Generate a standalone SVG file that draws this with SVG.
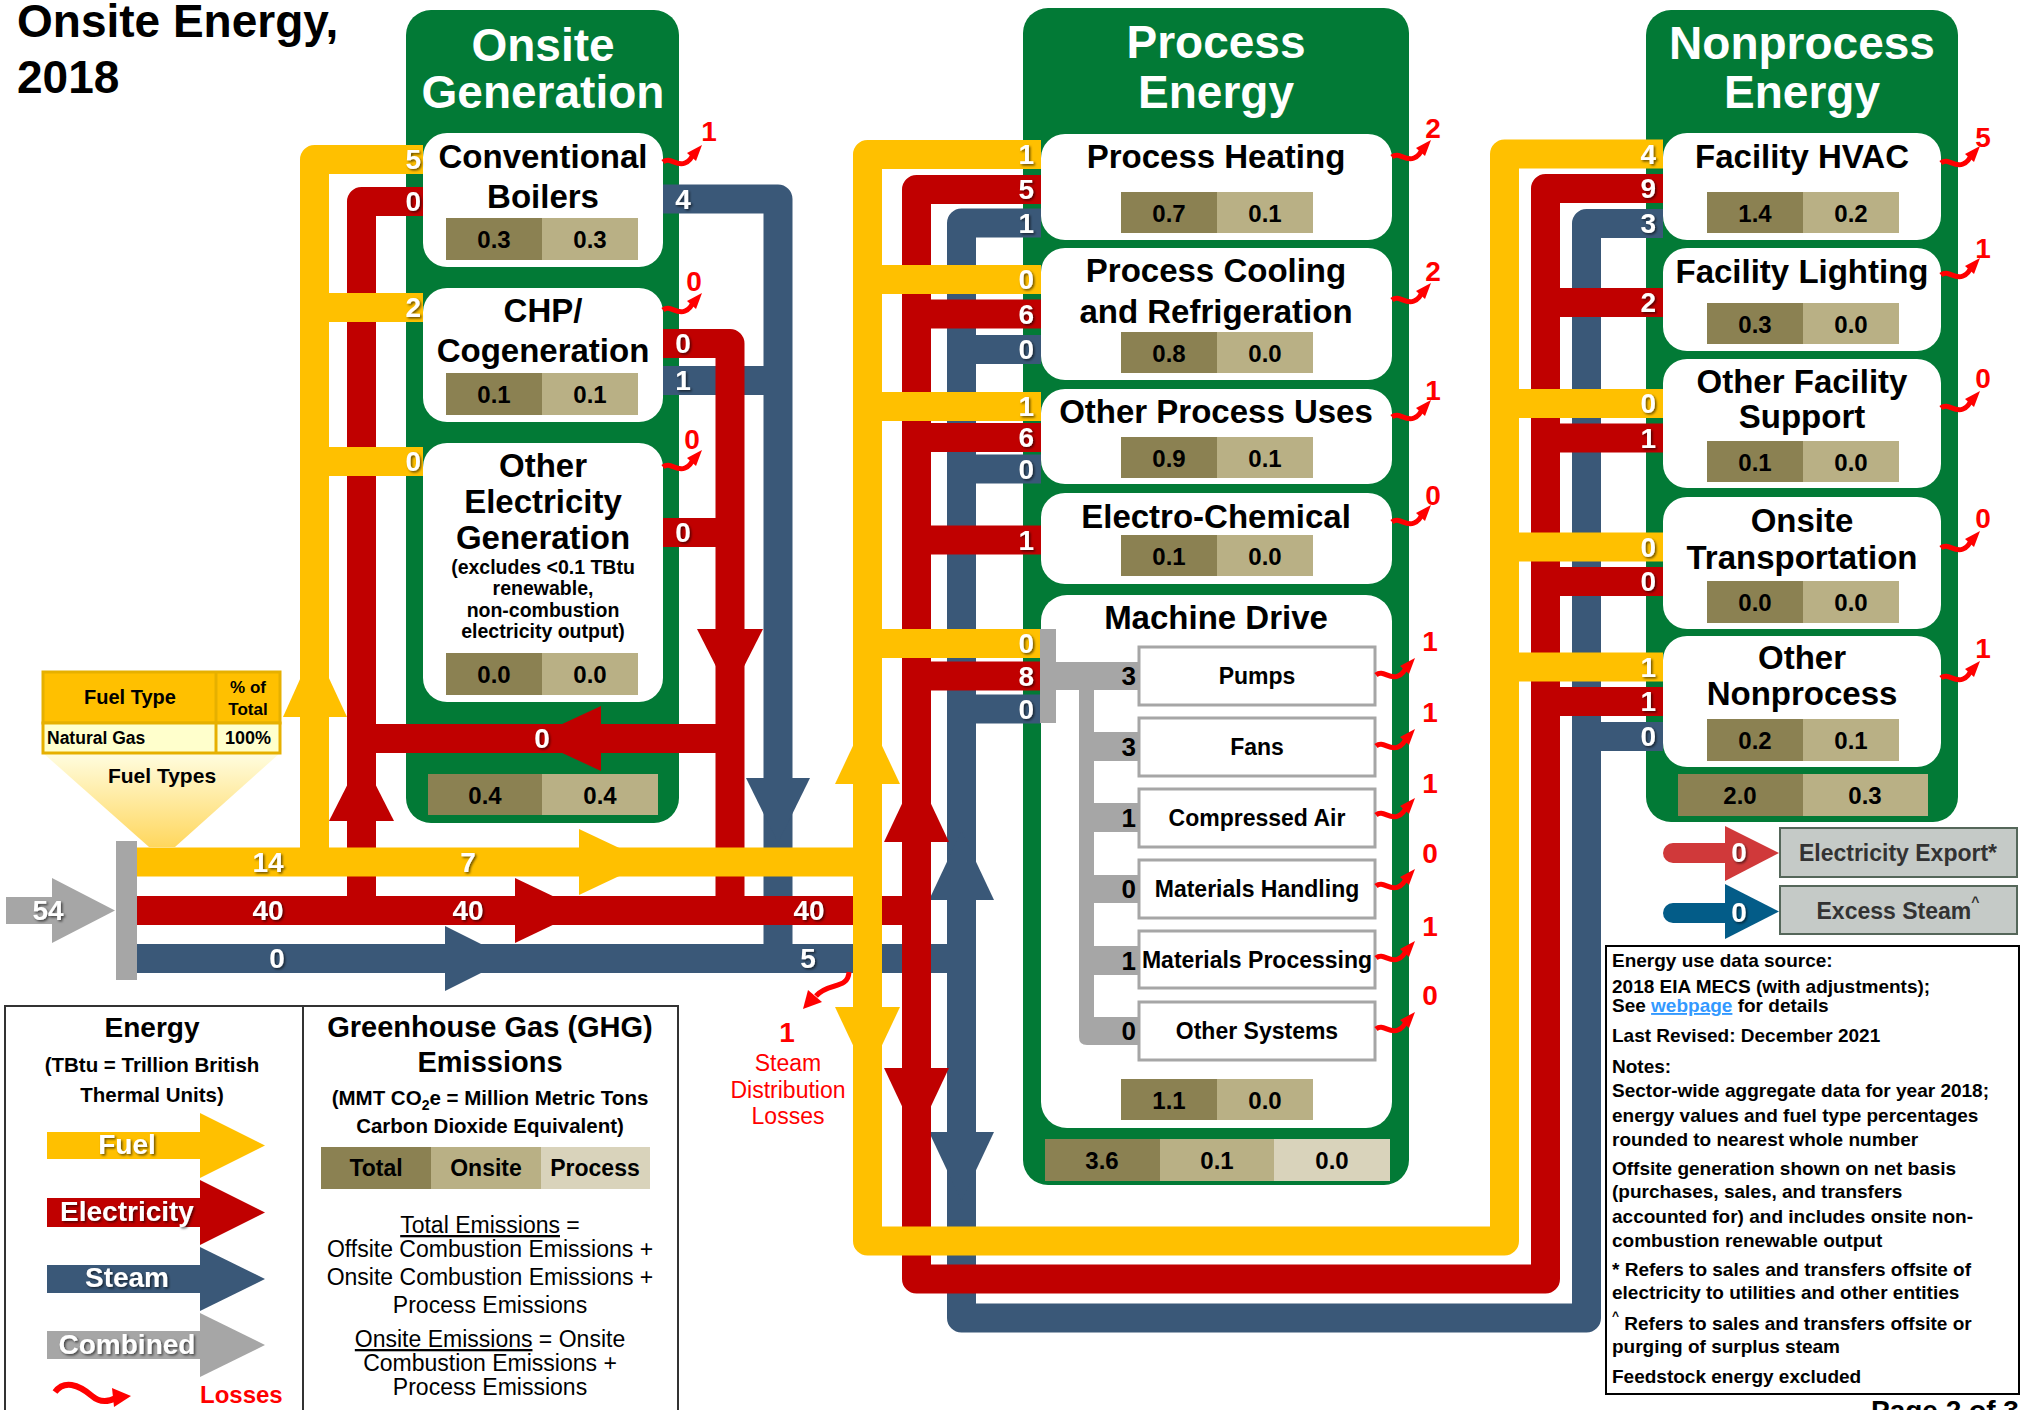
<svg xmlns="http://www.w3.org/2000/svg" width="2021" height="1410" viewBox="0 0 2021 1410">
<style>
text { font-family: "Liberation Sans", Arial, sans-serif; }
.b { font-weight: bold; }
.c { text-anchor: middle; }
.e { text-anchor: end; }
.pt { fill: #fff; font-size: 46px; font-weight: bold; text-anchor: middle; }
.bt { font-size: 33px; font-weight: bold; text-anchor: middle; fill: #000; }
.v { font-size: 24px; font-weight: bold; text-anchor: middle; fill: #000; }
.fl { fill: #fff; font-size: 28px; font-weight: bold; filter: url(#sh); }
.ls { fill: #f00; font-size: 28px; font-weight: bold; text-anchor: middle; }
.panel { fill: #027A36; }
.box { fill: #fff; }
.d { fill: #8B8152; } .l { fill: #B9B085; } .x { fill: #D9D3BB; }
.sub { fill: #fff; stroke: #A6A6A6; stroke-width: 3; }
.st { font-size: 23px; font-weight: bold; text-anchor: middle; }
.nt { font-size: 19px; font-weight: bold; }
.gy { fill: #A6A6A6; }
.ye { stroke: #FFC000; } .re { stroke: #C00000; } .bl { stroke: #3A5878; }
.yf { fill: #FFC000; } .rf { fill: #C00000; } .bf { fill: #3A5878; }
</style>
<defs>
<filter id="sh" x="-30%" y="-30%" width="160%" height="160%"><feDropShadow dx="1.5" dy="1.5" stdDeviation="1" flood-color="#000" flood-opacity="0.6"/></filter>
<linearGradient id="fun" x1="0" y1="0" x2="0" y2="1"><stop offset="0" stop-color="#FFFDE0"/><stop offset="1" stop-color="#FFD75E"/></linearGradient>
<g id="sq"><path d="M0,0 C7,-6 13,5 22,1 C27,-1 29,-5 30,-8" fill="none" stroke="#FF0000" stroke-width="5"/><polygon points="24,-9 39,-17 33,-1" fill="#FF0000"/></g>
</defs>
<rect width="2021" height="1410" fill="#fff"/>

<!-- Title -->
<g id="title">
<text x="17" y="37" class="b" font-size="46">Onsite Energy,</text>
<text x="17" y="93" class="b" font-size="46">2018</text>
</g>

<!-- Panels -->
<g id="onsite-generation">
<rect class="panel" x="406" y="10" width="273" height="813" rx="25"/>
<text class="pt" x="543" y="61">Onsite</text>
<text class="pt" x="543" y="108">Generation</text>
<rect class="d" x="428" y="774" width="114" height="41"/><rect class="l" x="542" y="774" width="116" height="41"/>
<text class="v" x="485" y="804">0.4</text><text class="v" x="600" y="804">0.4</text>
</g>
<g id="process-energy">
<rect class="panel" x="1023" y="8" width="386" height="1177" rx="25"/>
<text class="pt" x="1216" y="58">Process</text>
<text class="pt" x="1216" y="108">Energy</text>
<rect class="d" x="1045" y="1139" width="115" height="42"/><rect class="l" x="1160" y="1139" width="114" height="42"/><rect class="x" x="1274" y="1139" width="116" height="42"/>
<text class="v" x="1102" y="1169">3.6</text><text class="v" x="1217" y="1169">0.1</text><text class="v" x="1332" y="1169">0.0</text>
</g>
<g id="nonprocess-energy">
<rect class="panel" x="1646" y="10" width="312" height="812" rx="25"/>
<text class="pt" x="1802" y="59">Nonprocess</text>
<text class="pt" x="1802" y="108">Energy</text>
<rect class="d" x="1678" y="774" width="125" height="42"/><rect class="l" x="1803" y="774" width="125" height="42"/>
<text class="v" x="1740" y="804">2.0</text><text class="v" x="1865" y="804">0.3</text>
</g>

<!-- Onsite boxes -->
<g id="conventional-boilers">
<rect class="box" x="423" y="133" width="240" height="134" rx="24"/>
<text class="bt" x="543" y="168">Conventional</text>
<text class="bt" x="543" y="208">Boilers</text>
<rect class="d" x="446" y="218" width="96" height="42"/><rect class="l" x="542" y="218" width="96" height="42"/>
<text class="v" x="494" y="248">0.3</text><text class="v" x="590" y="248">0.3</text>
</g>
<g id="chp-cogeneration">
<rect class="box" x="423" y="288" width="240" height="134" rx="24"/>
<text class="bt" x="543" y="322">CHP/</text>
<text class="bt" x="543" y="362">Cogeneration</text>
<rect class="d" x="446" y="373" width="96" height="42"/><rect class="l" x="542" y="373" width="96" height="42"/>
<text class="v" x="494" y="403">0.1</text><text class="v" x="590" y="403">0.1</text>
</g>
<g id="other-electricity-generation">
<rect class="box" x="423" y="443" width="240" height="259" rx="24"/>
<text class="bt" x="543" y="477">Other</text>
<text class="bt" x="543" y="513">Electricity</text>
<text class="bt" x="543" y="549">Generation</text>
<text class="b c" font-size="19.5" x="543" y="574">(excludes &lt;0.1 TBtu</text>
<text class="b c" font-size="19.5" x="543" y="595">renewable,</text>
<text class="b c" font-size="19.5" x="543" y="617">non-combustion</text>
<text class="b c" font-size="19.5" x="543" y="638">electricity output)</text>
<rect class="d" x="446" y="653" width="96" height="42"/><rect class="l" x="542" y="653" width="96" height="42"/>
<text class="v" x="494" y="683">0.0</text><text class="v" x="590" y="683">0.0</text>
</g>

<!-- Process boxes -->
<g id="process-heating">
<rect class="box" x="1041" y="134" width="351" height="106" rx="24"/>
<text class="bt" x="1216" y="168">Process Heating</text>
<rect class="d" x="1121" y="192" width="96" height="41"/><rect class="l" x="1217" y="192" width="96" height="41"/>
<text class="v" x="1169" y="222">0.7</text><text class="v" x="1265" y="222">0.1</text>
</g>
<g id="process-cooling">
<rect class="box" x="1041" y="248" width="351" height="132" rx="24"/>
<text class="bt" x="1216" y="282">Process Cooling</text>
<text class="bt" x="1216" y="323">and Refrigeration</text>
<rect class="d" x="1121" y="332" width="96" height="41"/><rect class="l" x="1217" y="332" width="96" height="41"/>
<text class="v" x="1169" y="362">0.8</text><text class="v" x="1265" y="362">0.0</text>
</g>
<g id="other-process-uses">
<rect class="box" x="1041" y="389" width="351" height="95" rx="24"/>
<text class="bt" x="1216" y="423">Other Process Uses</text>
<rect class="d" x="1121" y="437" width="96" height="41"/><rect class="l" x="1217" y="437" width="96" height="41"/>
<text class="v" x="1169" y="467">0.9</text><text class="v" x="1265" y="467">0.1</text>
</g>
<g id="electro-chemical">
<rect class="box" x="1041" y="493" width="351" height="91" rx="24"/>
<text class="bt" x="1216" y="528">Electro-Chemical</text>
<rect class="d" x="1121" y="535" width="96" height="41"/><rect class="l" x="1217" y="535" width="96" height="41"/>
<text class="v" x="1169" y="565">0.1</text><text class="v" x="1265" y="565">0.0</text>
</g>
<g id="machine-drive">
<rect class="box" x="1041" y="595" width="351" height="533" rx="26"/>
<text class="bt" x="1216" y="629">Machine Drive</text>
<rect class="d" x="1121" y="1079" width="96" height="41"/><rect class="l" x="1217" y="1079" width="96" height="41"/>
<text class="v" x="1169" y="1109">1.1</text><text class="v" x="1265" y="1109">0.0</text>
</g>
<g id="pumps"><rect class="sub" x="1139" y="647" width="236" height="58"/><text class="st" x="1257" y="684">Pumps</text></g>
<g id="fans"><rect class="sub" x="1139" y="718" width="236" height="58"/><text class="st" x="1257" y="755">Fans</text></g>
<g id="compressed-air"><rect class="sub" x="1139" y="789" width="236" height="58"/><text class="st" x="1257" y="826">Compressed Air</text></g>
<g id="materials-handling"><rect class="sub" x="1139" y="860" width="236" height="58"/><text class="st" x="1257" y="897">Materials Handling</text></g>
<g id="materials-processing"><rect class="sub" x="1139" y="931" width="236" height="57"/><text class="st" x="1257" y="968">Materials Processing</text></g>
<g id="other-systems"><rect class="sub" x="1139" y="1002" width="236" height="58"/><text class="st" x="1257" y="1039">Other Systems</text></g>

<!-- Nonprocess boxes -->
<g id="facility-hvac">
<rect class="box" x="1663" y="133" width="278" height="107" rx="24"/>
<text class="bt" x="1802" y="168">Facility HVAC</text>
<rect class="d" x="1707" y="192" width="96" height="41"/><rect class="l" x="1803" y="192" width="96" height="41"/>
<text class="v" x="1755" y="222">1.4</text><text class="v" x="1851" y="222">0.2</text>
</g>
<g id="facility-lighting">
<rect class="box" x="1663" y="248" width="278" height="103" rx="24"/>
<text class="bt" x="1802" y="283">Facility Lighting</text>
<rect class="d" x="1707" y="303" width="96" height="41"/><rect class="l" x="1803" y="303" width="96" height="41"/>
<text class="v" x="1755" y="333">0.3</text><text class="v" x="1851" y="333">0.0</text>
</g>
<g id="other-facility-support">
<rect class="box" x="1663" y="359" width="278" height="129" rx="24"/>
<text class="bt" x="1802" y="393">Other Facility</text>
<text class="bt" x="1802" y="428">Support</text>
<rect class="d" x="1707" y="441" width="96" height="41"/><rect class="l" x="1803" y="441" width="96" height="41"/>
<text class="v" x="1755" y="471">0.1</text><text class="v" x="1851" y="471">0.0</text>
</g>
<g id="onsite-transportation">
<rect class="box" x="1663" y="497" width="278" height="132" rx="24"/>
<text class="bt" x="1802" y="532">Onsite</text>
<text class="bt" x="1802" y="569">Transportation</text>
<rect class="d" x="1707" y="581" width="96" height="42"/><rect class="l" x="1803" y="581" width="96" height="42"/>
<text class="v" x="1755" y="611">0.0</text><text class="v" x="1851" y="611">0.0</text>
</g>
<g id="other-nonprocess">
<rect class="box" x="1663" y="636" width="278" height="131" rx="24"/>
<text class="bt" x="1802" y="669">Other</text>
<text class="bt" x="1802" y="705">Nonprocess</text>
<rect class="d" x="1707" y="719" width="96" height="42"/><rect class="l" x="1803" y="719" width="96" height="42"/>
<text class="v" x="1755" y="749">0.2</text><text class="v" x="1851" y="749">0.1</text>
</g>

<!-- Fuel type table -->
<g id="fuel-types">
<polygon points="43,753 280,753 175,847 149,847" fill="url(#fun)"/>
<rect x="43" y="672" width="237" height="51" fill="#FFC000" stroke="#E6B000" stroke-width="3"/>
<rect x="43" y="723" width="237" height="30" fill="#FFFFCC" stroke="#E6B000" stroke-width="3"/>
<line x1="216" y1="672" x2="216" y2="753" stroke="#E6B000" stroke-width="3"/>
<text class="b c" font-size="20" x="130" y="704">Fuel Type</text>
<text class="b c" font-size="17" x="248" y="693">% of</text>
<text class="b c" font-size="17" x="248" y="715">Total</text>
<text class="b" font-size="17.5" x="47" y="744">Natural Gas</text>
<text class="b c" font-size="18" x="248" y="744">100%</text>
<text class="b c" font-size="21" x="162" y="783">Fuel Types</text>
</g>

<!-- Connectors -->
<g id="connectors">
<g id="combined-input">
<rect class="gy" x="6" y="897" width="47" height="27"/>
<polygon class="gy" points="52,878 115,910.5 52,943"/>
<rect class="gy" x="116" y="841" width="21" height="139"/>
</g>
<g id="steam-flows" fill="none" stroke-width="29" stroke-linejoin="round" class="bl">
<path d="M137,958.5 H961.5"/>
<path d="M663,199 H778 V958.5"/>
<path d="M663,380.5 H778"/>
<path d="M1041,223 H961.5 V1318 H1586.5 V223.5 H1663"/>
<path d="M1041,349.5 H961.5 M1041,469 H961.5 M1041,709 H961.5"/>
<path d="M1663,736.5 H1586.5"/>
</g>
<g id="steam-heads" class="bf">
<polygon points="445,926 510,958.5 445,991"/>
<polygon points="746,778 810,778 778,843"/>
<polygon points="929,900 994,900 961.5,831"/>
<polygon points="929,1132 994,1132 961.5,1201"/>
</g>
<g id="elec-flows" fill="none" stroke-width="29" stroke-linejoin="round" class="re">
<path d="M137,910.5 H916.5"/>
<path d="M423,201.5 H361.5 V910.5"/>
<path d="M361.5,738.5 H730"/>
<path d="M663,343.5 H730 V910.5"/>
<path d="M663,532.5 H730"/>
<path d="M1041,189.5 H916.5 V1279 H1545.5 V188.5 H1663"/>
<path d="M1041,314 H916.5 M1041,437.5 H916.5 M1041,540 H916.5 M1041,676 H916.5"/>
<path d="M1663,302.5 H1545.5 M1663,438 H1545.5 M1663,581.5 H1545.5 M1663,701.5 H1545.5"/>
</g>
<g id="elec-heads" class="rf">
<polygon points="515,878 583,910.5 515,943"/>
<polygon points="329,821 394,821 361.5,757"/>
<polygon points="697,629 763,629 730,694"/>
<polygon points="601,706 601,771 531,738.5"/>
<polygon points="884,842 949,842 916.5,773"/>
<polygon points="884,1068 949,1068 916.5,1137"/>
</g>
<g id="fuel-flows" fill="none" stroke-width="29" stroke-linejoin="round" class="ye">
<path d="M137,862 H867.5"/>
<path d="M423,159.5 H314.5 V862"/>
<path d="M423,307.5 H314.5 M423,461.5 H314.5"/>
<path d="M1041,154.5 H867.5 V1241 H1504.5 V154 H1663"/>
<path d="M1041,279.5 H867.5 M1041,406.5 H867.5 M1041,643.5 H867.5"/>
<path d="M1663,403.5 H1504.5 M1663,547 H1504.5 M1663,667 H1504.5"/>
</g>
<g id="fuel-heads" class="yf">
<polygon points="579,829 649,862 579,895"/>
<polygon points="283,717 347,717 314.5,647"/>
<polygon points="835,784 900,784 867.5,715"/>
<polygon points="835,1007 900,1007 867.5,1076"/>
</g>
<g id="machine-drive-split" class="gy">
<rect x="1040" y="629" width="16" height="94"/>
<rect x="1056" y="662" width="83" height="28"/>
<path d="M1079,690 H1094 V1017 H1139 V1045 H1087 Q1079,1045 1079,1037 Z"/>
<rect x="1094" y="732" width="45" height="29"/>
<rect x="1094" y="803" width="45" height="29"/>
<rect x="1094" y="875" width="45" height="28"/>
<rect x="1094" y="946" width="45" height="29"/>
</g>
<g id="flow-labels">
<text class="fl c" x="48" y="920">54</text>
<text class="fl c" x="268" y="872">14</text>
<text class="fl c" x="468" y="872">7</text>
<text class="fl c" x="268" y="920">40</text>
<text class="fl c" x="468" y="920">40</text>
<text class="fl c" x="809" y="920">40</text>
<text class="fl c" x="277" y="968">0</text>
<text class="fl c" x="808" y="968">5</text>
<text class="fl c" x="542" y="748">0</text>
<text class="fl e" x="421" y="169">5</text>
<text class="fl e" x="421" y="211">0</text>
<text class="fl e" x="421" y="317">2</text>
<text class="fl e" x="421" y="471">0</text>
<text class="fl c" x="683" y="209">4</text>
<text class="fl c" x="683" y="353">0</text>
<text class="fl c" x="683" y="390">1</text>
<text class="fl c" x="683" y="542">0</text>
<text class="fl e" x="1034" y="164">1</text>
<text class="fl e" x="1034" y="199">5</text>
<text class="fl e" x="1034" y="233">1</text>
<text class="fl e" x="1034" y="289">0</text>
<text class="fl e" x="1034" y="324">6</text>
<text class="fl e" x="1034" y="359">0</text>
<text class="fl e" x="1034" y="416">1</text>
<text class="fl e" x="1034" y="447">6</text>
<text class="fl e" x="1034" y="479">0</text>
<text class="fl e" x="1034" y="550">1</text>
<text class="fl e" x="1034" y="653">0</text>
<text class="fl e" x="1034" y="686">8</text>
<text class="fl e" x="1034" y="719">0</text>
<text class="fl e" x="1656" y="164">4</text>
<text class="fl e" x="1656" y="198">9</text>
<text class="fl e" x="1656" y="233">3</text>
<text class="fl e" x="1656" y="312">2</text>
<text class="fl e" x="1656" y="413">0</text>
<text class="fl e" x="1656" y="448">1</text>
<text class="fl e" x="1656" y="557">0</text>
<text class="fl e" x="1656" y="591">0</text>
<text class="fl e" x="1656" y="677">1</text>
<text class="fl e" x="1656" y="711">1</text>
<text class="fl e" x="1656" y="746">0</text>
<text class="b e" font-size="26" x="1136" y="685">3</text>
<text class="b e" font-size="26" x="1136" y="756">3</text>
<text class="b e" font-size="26" x="1136" y="827">1</text>
<text class="b e" font-size="26" x="1136" y="898">0</text>
<text class="b e" font-size="26" x="1136" y="970">1</text>
<text class="b e" font-size="26" x="1136" y="1040">0</text>
</g>
<g id="losses">
<use href="#sq" x="663" y="162"/><text class="ls" x="709" y="141">1</text>
<use href="#sq" x="663" y="310"/><text class="ls" x="694" y="291">0</text>
<use href="#sq" x="663" y="467"/><text class="ls" x="692" y="449">0</text>
<use href="#sq" x="1392" y="157"/><text class="ls" x="1433" y="138">2</text>
<use href="#sq" x="1392" y="300"/><text class="ls" x="1433" y="281">2</text>
<use href="#sq" x="1392" y="417"/><text class="ls" x="1433" y="400">1</text>
<use href="#sq" x="1392" y="522"/><text class="ls" x="1433" y="505">0</text>
<use href="#sq" x="1376" y="675"/><text class="ls" x="1430" y="651">1</text>
<use href="#sq" x="1376" y="746"/><text class="ls" x="1430" y="722">1</text>
<use href="#sq" x="1376" y="815"/><text class="ls" x="1430" y="793">1</text>
<use href="#sq" x="1376" y="886"/><text class="ls" x="1430" y="863">0</text>
<use href="#sq" x="1376" y="958"/><text class="ls" x="1430" y="936">1</text>
<use href="#sq" x="1376" y="1029"/><text class="ls" x="1430" y="1005">0</text>
<use href="#sq" x="1941" y="163"/><text class="ls" x="1983" y="147">5</text>
<use href="#sq" x="1941" y="275"/><text class="ls" x="1983" y="258">1</text>
<use href="#sq" x="1941" y="408"/><text class="ls" x="1983" y="388">0</text>
<use href="#sq" x="1941" y="548"/><text class="ls" x="1983" y="528">0</text>
<use href="#sq" x="1941" y="678"/><text class="ls" x="1983" y="658">1</text>
<path d="M849,972 C848,990 828,982 816,996" fill="none" stroke="#FF0000" stroke-width="5"/>
<polygon points="803,1009 808,990 822,1002" fill="#FF0000"/>
</g>
</g>

<g id="steam-distribution-losses">
<text class="ls" x="787" y="1042">1</text>
<text class="c" font-size="23" fill="#f00" x="788" y="1071">Steam</text>
<text class="c" font-size="23" fill="#f00" x="788" y="1098">Distribution</text>
<text class="c" font-size="23" fill="#f00" x="788" y="1124">Losses</text>
</g>

<!-- Export boxes -->
<g id="electricity-export">
<rect x="1663" y="843" width="72" height="20" rx="10" fill="#D0393A"/>
<polygon points="1725,826 1779,853 1725,881" fill="#D0393A"/>
<text class="fl c" font-size="26" x="1739" y="862">0</text>
<rect x="1780" y="828" width="237" height="49" fill="#C5CAC7" stroke="#55675A" stroke-width="2"/>
<text class="b c" font-size="23" fill="#333" x="1898" y="861">Electricity Export*</text>
</g>
<g id="excess-steam">
<rect x="1663" y="903" width="72" height="20" rx="10" fill="#035C88"/>
<polygon points="1725,884 1779,911.5 1725,939" fill="#035C88"/>
<text class="fl c" font-size="26" x="1739" y="922">0</text>
<rect x="1780" y="886" width="237" height="48" fill="#C5CAC7" stroke="#55675A" stroke-width="2"/>
<text class="b c" font-size="23" fill="#333" x="1898" y="919">Excess Steam<tspan font-size="14" dy="-12">^</tspan></text>
</g>

<!-- Notes -->
<g id="notes">
<rect x="1606" y="946" width="413" height="448" fill="#fff" stroke="#000" stroke-width="2"/>
<text class="nt" x="1612" y="967">Energy use data source:</text>
<text class="nt" x="1612" y="993">2018 EIA MECS (with adjustments);</text>
<text class="nt" x="1612" y="1012">See <tspan fill="#3399FF" text-decoration="underline">webpage</tspan> for details</text>
<text class="nt" x="1612" y="1042">Last Revised: December 2021</text>
<text class="nt" x="1612" y="1073">Notes:</text>
<text class="nt" x="1612" y="1097">Sector-wide aggregate data for year 2018;</text>
<text class="nt" x="1612" y="1122">energy values and fuel type percentages</text>
<text class="nt" x="1612" y="1146">rounded to nearest whole number</text>
<text class="nt" x="1612" y="1175">Offsite generation shown on net basis</text>
<text class="nt" x="1612" y="1198">(purchases, sales, and transfers</text>
<text class="nt" x="1612" y="1223">accounted for) and includes onsite non-</text>
<text class="nt" x="1612" y="1247">combustion renewable output</text>
<text class="nt" x="1612" y="1276">* Refers to sales and transfers offsite of</text>
<text class="nt" x="1612" y="1299">electricity to utilities and other entities</text>
<text class="nt" x="1612" y="1330"><tspan font-size="12" dy="-10">^</tspan><tspan dy="10"> Refers to sales and transfers offsite or</tspan></text>
<text class="nt" x="1612" y="1353">purging of surplus steam</text>
<text class="nt" x="1612" y="1383">Feedstock energy excluded</text>
<text class="b" font-size="28" x="1871" y="1420">Page 2 of 3</text>
</g>

<!-- Legend -->
<g id="legend">
<rect x="5" y="1006" width="673" height="420" fill="#fff" stroke="#333" stroke-width="2"/>
<line x1="303" y1="1006" x2="303" y2="1410" stroke="#333" stroke-width="2"/>
<text class="b c" font-size="28" x="152" y="1037">Energy</text>
<text class="b c" font-size="20.5" x="152" y="1072">(TBtu = Trillion British</text>
<text class="b c" font-size="20.5" x="152" y="1102">Thermal Units)</text>
<rect class="yf" x="47" y="1132" width="154" height="27"/><polygon class="yf" points="200,1113 265,1145.5 200,1178"/>
<text class="fl c" font-size="26" x="127" y="1154">Fuel</text>
<rect class="rf" x="47" y="1198" width="154" height="29"/><polygon class="rf" points="200,1180 265,1212.5 200,1245"/>
<text class="fl c" font-size="26" x="127" y="1221">Electricity</text>
<rect class="bf" x="47" y="1265" width="154" height="28"/><polygon class="bf" points="200,1247 265,1279 200,1311"/>
<text class="fl c" font-size="26" x="127" y="1287">Steam</text>
<rect class="gy" x="47" y="1331" width="154" height="28"/><polygon class="gy" points="200,1313 265,1345 200,1377"/>
<text class="fl c" font-size="26" x="127" y="1354">Combined</text>
<path d="M55,1392 C64,1380 78,1384 92,1396 C100,1403 108,1402 116,1398" fill="none" stroke="#FF0000" stroke-width="6"/>
<polygon points="112,1388 131,1396 114,1407" fill="#FF0000"/>
<text class="b" font-size="24" fill="#f00" x="200" y="1403">Losses</text>
<text class="b c" font-size="29" x="490" y="1037">Greenhouse Gas (GHG)</text>
<text class="b c" font-size="29" x="490" y="1072">Emissions</text>
<text class="b c" font-size="20.5" x="490" y="1105">(MMT CO<tspan font-size="14" dy="5">2</tspan><tspan dy="-5">e = Million Metric Tons</tspan></text>
<text class="b c" font-size="20.5" x="490" y="1133">Carbon Dioxide Equivalent)</text>
<rect class="d" x="321" y="1147" width="110" height="42"/><rect class="l" x="431" y="1147" width="110" height="42"/><rect class="x" x="541" y="1147" width="109" height="42"/>
<text class="b c" font-size="23" x="376" y="1176">Total</text>
<text class="b c" font-size="23" x="486" y="1176">Onsite</text>
<text class="b c" font-size="23" x="595" y="1176">Process</text>
<text class="c" font-size="23" x="490" y="1233"><tspan text-decoration="underline">Total Emissions</tspan> =</text>
<text class="c" font-size="23" x="490" y="1257">Offsite Combustion Emissions +</text>
<text class="c" font-size="23" x="490" y="1285">Onsite Combustion Emissions +</text>
<text class="c" font-size="23" x="490" y="1313">Process Emissions</text>
<text class="c" font-size="23" x="490" y="1347"><tspan text-decoration="underline">Onsite Emissions</tspan> = Onsite</text>
<text class="c" font-size="23" x="490" y="1371">Combustion Emissions +</text>
<text class="c" font-size="23" x="490" y="1395">Process Emissions</text>
</g>
</svg>
